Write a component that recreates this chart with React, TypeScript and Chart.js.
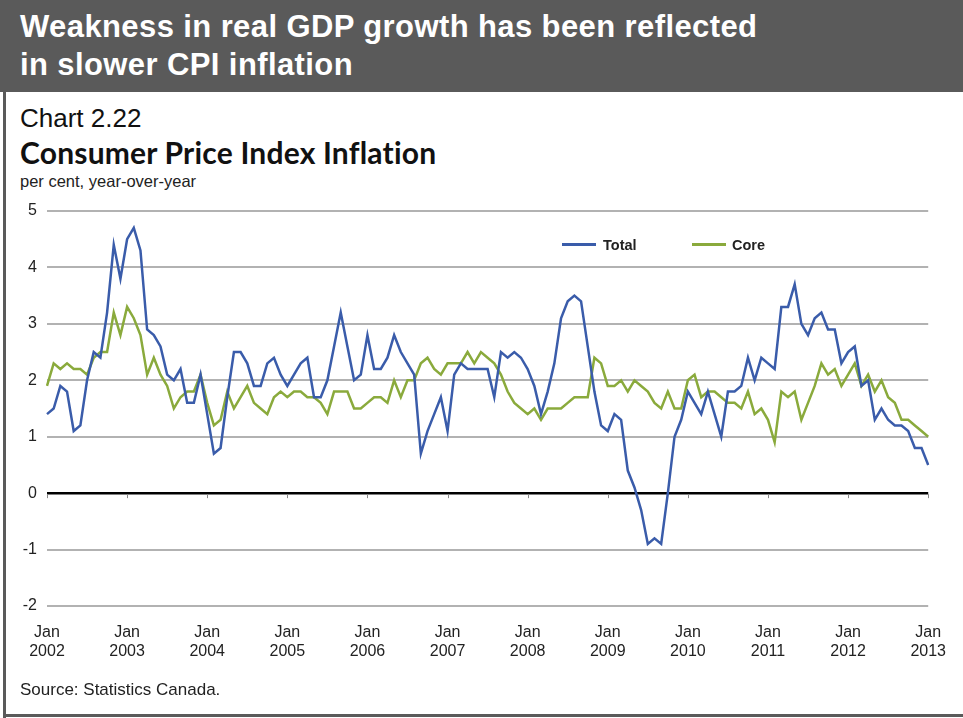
import React, { useEffect, useRef } from "react";
import { Chart, registerables } from "chart.js";

Chart.register(...registerables);

const monthNames = ["Jan", "Feb", "Mar", "Apr", "May", "Jun", "Jul", "Aug", "Sep", "Oct", "Nov", "Dec"];
const years = [2002, 2003, 2004, 2005, 2006, 2007, 2008, 2009, 2010, 2011, 2012, 2013];

// Total CPI inflation, per cent year-over-year, Jan 2002 - Jan 2013
const total = [
  1.4, 1.5, 1.9, 1.8, 1.1, 1.2, 2.0, 2.5, 2.4, 3.2, 4.4, 3.8,
  4.5, 4.7, 4.3, 2.9, 2.8, 2.6, 2.1, 2.0, 2.2, 1.6, 1.6, 2.1,
  1.4, 0.7, 0.8, 1.7, 2.5, 2.5, 2.3, 1.9, 1.9, 2.3, 2.4, 2.1,
  1.9, 2.1, 2.3, 2.4, 1.7, 1.7, 2.0, 2.6, 3.2, 2.6, 2.0, 2.1,
  2.8, 2.2, 2.2, 2.4, 2.8, 2.5, 2.3, 2.1, 0.7, 1.1, 1.4, 1.7,
  1.1, 2.1, 2.3, 2.2, 2.2, 2.2, 2.2, 1.7, 2.5, 2.4, 2.5, 2.4,
  2.2, 1.9, 1.4, 1.8, 2.3, 3.1, 3.4, 3.5, 3.4, 2.6, 1.8, 1.2,
  1.1, 1.4, 1.3, 0.4, 0.1, -0.3, -0.9, -0.8, -0.9, 0.0, 1.0, 1.3,
  1.8, 1.6, 1.4, 1.8, 1.4, 1.0, 1.8, 1.8, 1.9, 2.4, 2.0, 2.4,
  2.3, 2.2, 3.3, 3.3, 3.7, 3.0, 2.8, 3.1, 3.2, 2.9, 2.9, 2.3,
  2.5, 2.6, 1.9, 2.0, 1.3, 1.5, 1.3, 1.2, 1.2, 1.1, 0.8, 0.8,
  0.5,
];

// Core CPI inflation, per cent year-over-year, Jan 2002 - Jan 2013
const core = [
  1.9, 2.3, 2.2, 2.3, 2.2, 2.2, 2.1, 2.4, 2.5, 2.5, 3.2, 2.8,
  3.3, 3.1, 2.8, 2.1, 2.4, 2.1, 1.9, 1.5, 1.7, 1.8, 1.8, 2.1,
  1.6, 1.2, 1.3, 1.8, 1.5, 1.7, 1.9, 1.6, 1.5, 1.4, 1.7, 1.8,
  1.7, 1.8, 1.8, 1.7, 1.7, 1.6, 1.4, 1.8, 1.8, 1.8, 1.5, 1.5,
  1.6, 1.7, 1.7, 1.6, 2.0, 1.7, 2.0, 2.0, 2.3, 2.4, 2.2, 2.1,
  2.3, 2.3, 2.3, 2.5, 2.3, 2.5, 2.4, 2.3, 2.1, 1.8, 1.6, 1.5,
  1.4, 1.5, 1.3, 1.5, 1.5, 1.5, 1.6, 1.7, 1.7, 1.7, 2.4, 2.3,
  1.9, 1.9, 2.0, 1.8, 2.0, 1.9, 1.8, 1.6, 1.5, 1.8, 1.5, 1.5,
  2.0, 2.1, 1.7, 1.8, 1.8, 1.7, 1.6, 1.6, 1.5, 1.8, 1.4, 1.5,
  1.3, 0.9, 1.8, 1.7, 1.8, 1.3, 1.6, 1.9, 2.3, 2.1, 2.2, 1.9,
  2.1, 2.3, 1.9, 2.1, 1.8, 2.0, 1.7, 1.6, 1.3, 1.3, 1.2, 1.1,
  1.0,
];

const yTicks = [-2, -1, 0, 1, 2, 3, 4, 5];

const labels: string[] = [];
years.forEach((y) => {
  monthNames.forEach((m) => {
    if (labels.length < total.length) labels.push(m + " " + y);
  });
});

const BLUE = "#3a5caa";
const GREEN = "#8aaa3c";
const FONT = "'Liberation Sans', Arial, Helvetica, sans-serif";

const zeroTicks = {
  id: "zeroTicks",
  afterDatasetsDraw(chart: any) {
    const xs = chart.scales.x;
    const ys = chart.scales.y;
    const y0 = ys.getPixelForValue(0);
    const ctx = chart.ctx;
    ctx.save();
    ctx.strokeStyle = "#888";
    ctx.lineWidth = 1;
    labels.forEach((l, i) => {
      if (l.startsWith("Jan")) {
        const x = Math.round(xs.getPixelForValue(i)) + 0.5;
        ctx.beginPath();
        ctx.moveTo(x, y0 + 1);
        ctx.lineTo(x, y0 + 5);
        ctx.stroke();
      }
    });
    ctx.restore();
  },
};

function CpiChart() {
  const ref = useRef<HTMLCanvasElement>(null);
  useEffect(() => {
    if (!ref.current) return;
    const chart = new Chart(ref.current, {
      type: "line",
      data: {
        labels,
        datasets: [
          {
            label: "Total",
            data: total,
            borderColor: BLUE,
            backgroundColor: BLUE,
            borderWidth: 2.5,
            pointRadius: 0,
            tension: 0,
          },
          {
            label: "Core",
            data: core,
            borderColor: GREEN,
            backgroundColor: GREEN,
            borderWidth: 2.5,
            pointRadius: 0,
            tension: 0,
          },
        ],
      },
      options: {
        animation: false,
        responsive: false,
        maintainAspectRatio: false,
        events: [],
        layout: { padding: { top: 211, left: 0, right: 27, bottom: 0 } },
        plugins: {
          legend: { display: false },
          tooltip: { enabled: false },
          title: { display: false },
        },
        scales: {
          x: {
            type: "category",
            offset: false,
            grid: { display: false, drawTicks: false },
            border: { display: false },
            ticks: {
              autoSkip: false,
              maxRotation: 0,
              minRotation: 0,
              padding: 17,
              color: "#222",
              font: { family: FONT, size: 16 },
              callback: (value: any, index: number) => {
                const l = labels[index];
                if (l && l.startsWith("Jan")) return ["Jan", l.split(" ")[1]];
                return null;
              },
            },
            afterFit: (scale: any) => {
              scale.height = 112;
            },
          },
          y: {
            min: -2,
            max: 5,
            afterBuildTicks: (scale: any) => {
              scale.ticks = yTicks.map((v) => ({ value: v }));
            },
            grid: {
              drawTicks: false,
              color: (ctx: any) => (ctx.tick && ctx.tick.value === 0 ? "#000" : "#b2b2b2"),
              lineWidth: (ctx: any) => (ctx.tick && ctx.tick.value === 0 ? 2.5 : 2),
            },
            border: { display: false },
            ticks: {
              padding: 10,
              color: "#222",
              font: { family: FONT, size: 16 },
            },
            afterFit: (scale: any) => {
              scale.width = 47;
            },
          },
        },
      },
      plugins: [zeroTicks],
    });
    return () => chart.destroy();
  }, []);
  return <canvas ref={ref} width={963} height={718} style={{ position: "absolute", left: 0, top: 0 }} />;
}

export default function App() {
  const abs = (o: React.CSSProperties): React.CSSProperties => ({ position: "absolute", whiteSpace: "nowrap", ...o });
  return (
    <div style={{ position: "fixed", left: 0, top: 0, width: 963, height: 718, background: "#fff", overflow: "hidden", fontFamily: FONT }}>
      <div
        style={abs({
          left: 0,
          top: 0,
          width: 963,
          height: 92,
          background: "#5a5a5a",
          color: "#fff",
          fontWeight: "bold",
          fontSize: 31,
          letterSpacing: 0.4,
          lineHeight: "38px",
          paddingTop: 8,
          paddingLeft: 20,
          boxSizing: "border-box",
          whiteSpace: "normal",
        })}
      >
        Weakness in real GDP growth has been reflected
        <br />
        in slower CPI inflation
      </div>
      <div style={abs({ left: 3, top: 92, width: 3, height: 626, background: "#5a5a5a" })} />
      <div style={abs({ left: 3, top: 714, width: 960, height: 3, background: "#5a5a5a" })} />
      <div style={abs({ left: 20, top: 103, fontSize: 26, lineHeight: "30px", color: "#111" })}>Chart 2.22</div>
      <div style={abs({ left: 20, top: 135, fontSize: 30, lineHeight: "34px", fontWeight: "bold", letterSpacing: 0.2, fontFamily: "Lato, 'Open Sans', sans-serif", color: "#111" })}>
        Consumer Price Index Inflation
      </div>
      <div style={abs({ left: 20, top: 172, fontSize: 16.5, lineHeight: "19px", color: "#222" })}>per cent, year-over-year</div>
      <CpiChart />
      <div style={abs({ left: 562, top: 243, width: 34, height: 3, background: BLUE })} />
      <div style={abs({ left: 603, top: 236, fontSize: 14.5, lineHeight: "18px", fontWeight: "bold", color: "#222" })}>Total</div>
      <div style={abs({ left: 692, top: 243, width: 34, height: 3, background: GREEN })} />
      <div style={abs({ left: 732, top: 236, fontSize: 14.5, lineHeight: "18px", fontWeight: "bold", color: "#222" })}>Core</div>
      <div style={abs({ left: 20, top: 680, fontSize: 17, lineHeight: "20px", color: "#222" })}>Source: Statistics Canada.</div>
    </div>
  );
}
